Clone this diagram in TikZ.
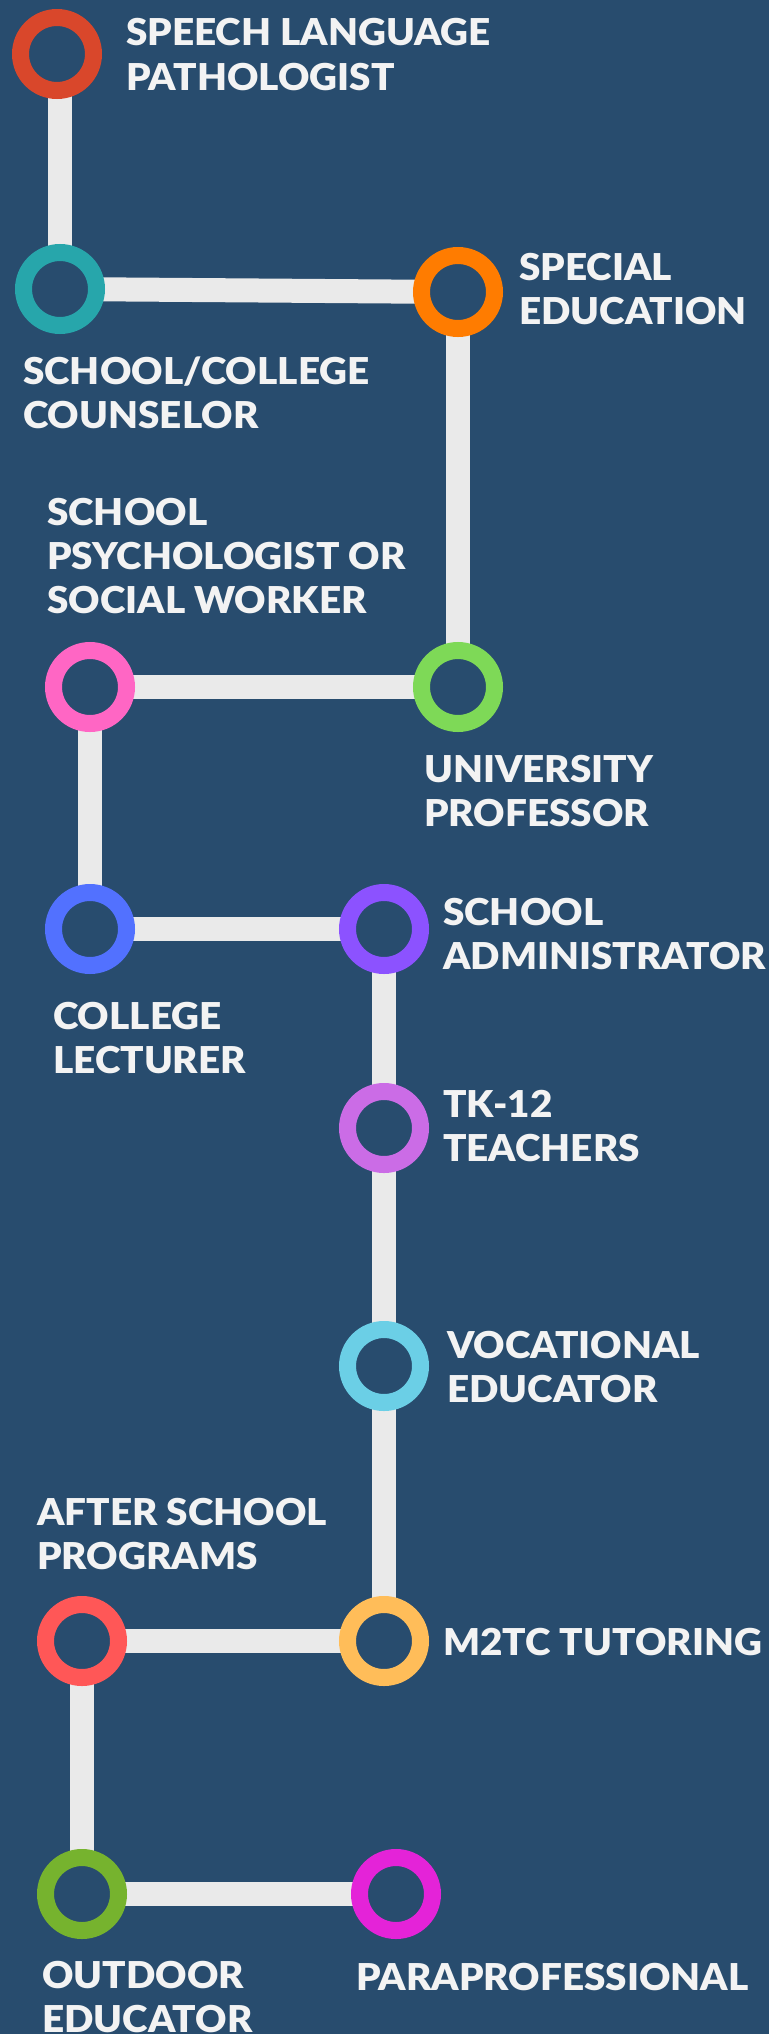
\documentclass[tikz,border=0pt]{standalone}
\usepackage{fontspec}
\usepackage{tikz}
\usepackage{xcolor}
\usetikzlibrary{backgrounds}
\IfFontExistsTF{Lato Black}{\newfontfamily\jobfont{Lato Black}[FakeStretch=1.045]}{\newfontfamily\jobfont{Lato}[UprightFeatures={FakeBold=1.5}]}

\definecolor{bg}{HTML}{284C6E}
\definecolor{linkgray}{HTML}{EAEAEA}
\definecolor{txt}{HTML}{F3F3F3}
\definecolor{slpred}{HTML}{D9472B}
\definecolor{cslteal}{HTML}{27A6AB}
\definecolor{spedorange}{HTML}{FF7C00}
\definecolor{psypink}{HTML}{FF66C4}
\definecolor{unigreen}{HTML}{7ED957}
\definecolor{lecblue}{HTML}{5271FF}
\definecolor{admpurple}{HTML}{8C52FF}
\definecolor{tklilac}{HTML}{CB6CE6}
\definecolor{vocsky}{HTML}{6BCFE6}
\definecolor{aftcoral}{HTML}{FF5757}
\definecolor{mtcyellow}{HTML}{FFBD59}
\definecolor{outgreen}{HTML}{76B32E}
\definecolor{paramagenta}{HTML}{E423D8}

\begin{document}
\begin{tikzpicture}[
  x=1pt, y=-1pt,
  ring/.style={circle, draw=#1, line width=17pt, minimum size=73pt, inner sep=0pt, outer sep=0pt, fill=bg},
  link/.style={draw=linkgray, line width=24pt},
  job/.style={anchor=base west, align=left, inner sep=0pt, text=txt, font=\jobfont\fontsize{37}{44}\selectfont}
]
\useasboundingbox (0,0) rectangle (769,2034);
\begin{pgfonlayer}{background}
  \fill[bg] (0,0) rectangle (769,2034);
\end{pgfonlayer}

% Rings
\node[ring=slpred] (slp) at (57,54) {};
\node[ring=cslteal] (csl) at (60,289) {};
\node[ring=spedorange] (sped) at (458,292) {};
\node[ring=psypink] (psy) at (90,687) {};
\node[ring=unigreen] (uni) at (458,687) {};
\node[ring=lecblue] (lec) at (90,929) {};
\node[ring=admpurple] (adm) at (384,929) {};
\node[ring=tklilac] (tk) at (384,1128) {};
\node[ring=vocsky] (voc) at (384,1366) {};
\node[ring=aftcoral] (aft) at (82,1641) {};
\node[ring=mtcyellow] (mtc) at (384,1641) {};
\node[ring=outgreen] (out) at (82,1894) {};
\node[ring=paramagenta] (para) at (396,1894) {};

% Labels (anchored at the last line)
\node[job] (slp-t) at (126,90) {SPEECH LANGUAGE\\PATHOLOGIST};
\node[job] (sped-t) at (519,324) {SPECIAL\\EDUCATION};
\node[job] (csl-t) at (23,428) {SCHOOL/COLLEGE\\COUNSELOR};
\node[job] (psy-t) at (47,613) {SCHOOL\\PSYCHOLOGIST OR\\SOCIAL WORKER};
\node[job] (uni-t) at (424,826) {UNIVERSITY\\PROFESSOR};
\node[job] (adm-t) at (443,969) {SCHOOL\\ADMINISTRATOR};
\node[job] (lec-t) at (53,1073) {COLLEGE\\LECTURER};
\node[job] (tk-t) at (443,1161) {TK-12\\TEACHERS};
\node[job] (voc-t) at (447,1402) {VOCATIONAL\\EDUCATOR};
\node[job] (aft-t) at (37,1569) {AFTER SCHOOL\\PROGRAMS};
\node[job] (mtc-t) at (443,1655) {M2TC TUTORING};
\node[job] (out-t) at (42,2032) {OUTDOOR\\EDUCATOR};
\node[job] (para-t) at (356,1990) {PARAPROFESSIONAL};

% Links
\begin{pgfonlayer}{background}
  \draw[link] (csl) -- (csl |- slp);
  \draw[link] (csl) -- (sped);
  \draw[link] (sped) -- (uni);
  \draw[link] (uni) -- (psy);
  \draw[link] (psy) -- (lec);
  \draw[link] (lec) -- (adm);
  \draw[link] (adm) -- (tk);
  \draw[link] (tk) -- (voc);
  \draw[link] (voc) -- (mtc);
  \draw[link] (mtc) -- (aft);
  \draw[link] (aft) -- (out);
  \draw[link] (out) -- (para);
\end{pgfonlayer}
\end{tikzpicture}
\end{document}
